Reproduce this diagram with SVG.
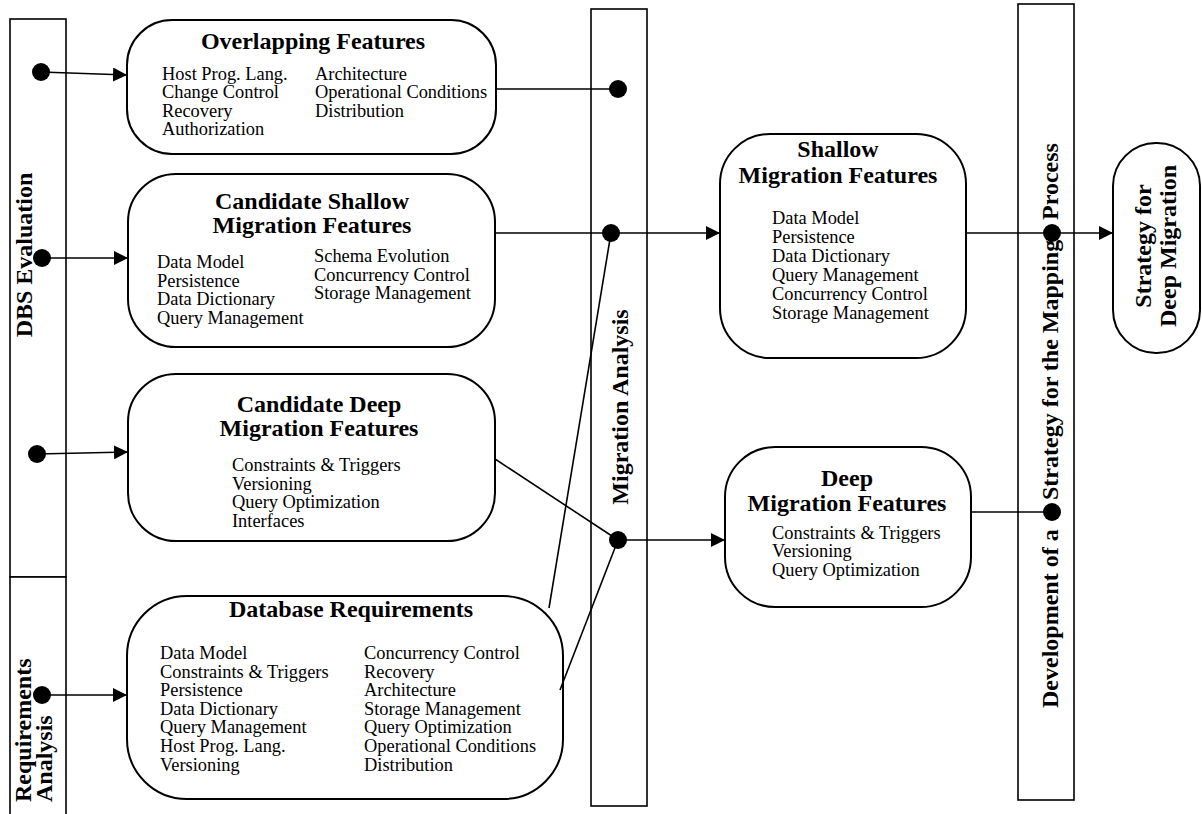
<svg xmlns="http://www.w3.org/2000/svg" width="1202" height="814" viewBox="0 0 1202 814">
<defs>
<style>
.box{fill:#fff;stroke:#000;stroke-width:2}
.bar{fill:#fff;stroke:#000;stroke-width:1.6}
.t{font-family:"Liberation Serif","Times New Roman",serif;font-weight:bold;font-size:24px;fill:#000}
.b{font-family:"Liberation Serif","Times New Roman",serif;font-size:18.4px;fill:#000}
.m{text-anchor:middle}
.ln{fill:none;stroke:#000;stroke-width:1.6}
.dot{fill:#000}
</style>
<marker id="arr" markerUnits="userSpaceOnUse" markerWidth="14" markerHeight="14" refX="14" refY="7" orient="auto">
<path d="M0,0 L14,7 L0,14 z" fill="#000"/>
</marker>
</defs>
<rect width="1202" height="814" fill="#fff"/>

<g id="bar-dbs">
<rect class="bar" x="10" y="19" width="56" height="558"/>
<text class="t m" transform="translate(32,255) rotate(-90)">DBS Evaluation</text>
</g>
<g id="bar-req">
<rect class="bar" x="10" y="577" width="56" height="260"/>
<text class="t" transform="translate(31,802) rotate(-90)">Requirements</text>
<text class="t" transform="translate(52,802) rotate(-90)">Analysis</text>
</g>
<g id="bar-migration">
<rect class="bar" x="591" y="9" width="56" height="797"/>
<text class="t m" transform="translate(628,407) rotate(-90)">Migration Analysis</text>
</g>
<g id="bar-strategy">
<rect class="bar" x="1018" y="4" width="56" height="796"/>
<text class="t" transform="translate(1058,708) rotate(-90)">Development of a</text>
<text class="t" transform="translate(1058,500) rotate(-90)">Strategy for the Mapping</text>
<text class="t" transform="translate(1058,220) rotate(-90)">Process</text>
</g>

<g id="node-overlapping">
<rect class="box" x="127" y="20" width="369" height="134" rx="45"/>
<text class="t m" x="313" y="49">Overlapping Features</text>
<text class="b" x="162" y="79.5">Host Prog. Lang.</text>
<text class="b" x="162" y="98">Change Control</text>
<text class="b" x="162" y="116.5">Recovery</text>
<text class="b" x="162" y="135">Authorization</text>
<text class="b" x="315" y="79.5">Architecture</text>
<text class="b" x="315" y="98">Operational Conditions</text>
<text class="b" x="315" y="116.5">Distribution</text>
</g>

<g id="node-cand-shallow">
<rect class="box" x="128" y="174" width="367" height="173" rx="48"/>
<text class="t m" x="312" y="209">Candidate Shallow</text>
<text class="t m" x="312" y="233">Migration Features</text>
<text class="b" x="157" y="268">Data Model</text>
<text class="b" x="157" y="286.5">Persistence</text>
<text class="b" x="157" y="305">Data Dictionary</text>
<text class="b" x="157" y="323.5">Query Management</text>
<text class="b" x="314" y="262">Schema Evolution</text>
<text class="b" x="314" y="280.5">Concurrency Control</text>
<text class="b" x="314" y="299">Storage Management</text>
</g>

<g id="node-cand-deep">
<rect class="box" x="128" y="374" width="367" height="167" rx="48"/>
<text class="t m" x="319" y="412">Candidate Deep</text>
<text class="t m" x="319" y="436">Migration Features</text>
<text class="b" x="232" y="471">Constraints &amp; Triggers</text>
<text class="b" x="232" y="489.5">Versioning</text>
<text class="b" x="232" y="508">Query Optimization</text>
<text class="b" x="232" y="526.5">Interfaces</text>
</g>

<g id="node-db-req">
<rect class="box" x="127" y="596" width="436" height="203" rx="60"/>
<text class="t m" x="351" y="617">Database Requirements</text>
<text class="b" x="160" y="659">Data Model</text>
<text class="b" x="160" y="677.6">Constraints &amp; Triggers</text>
<text class="b" x="160" y="696.2">Persistence</text>
<text class="b" x="160" y="714.8">Data Dictionary</text>
<text class="b" x="160" y="733.4">Query Management</text>
<text class="b" x="160" y="752">Host Prog. Lang.</text>
<text class="b" x="160" y="770.6">Versioning</text>
<text class="b" x="364" y="659">Concurrency Control</text>
<text class="b" x="364" y="677.6">Recovery</text>
<text class="b" x="364" y="696.2">Architecture</text>
<text class="b" x="364" y="714.8">Storage Management</text>
<text class="b" x="364" y="733.4">Query Optimization</text>
<text class="b" x="364" y="752">Operational Conditions</text>
<text class="b" x="364" y="770.6">Distribution</text>
</g>

<g id="node-shallow">
<rect class="box" x="720" y="134" width="246" height="224" rx="50"/>
<text class="t m" x="838" y="157">Shallow</text>
<text class="t m" x="838" y="183">Migration Features</text>
<text class="b" x="772" y="224">Data Model</text>
<text class="b" x="772" y="243">Persistence</text>
<text class="b" x="772" y="262">Data Dictionary</text>
<text class="b" x="772" y="281">Query Management</text>
<text class="b" x="772" y="299.5">Concurrency Control</text>
<text class="b" x="772" y="318.5">Storage Management</text>
</g>

<g id="node-deep">
<rect class="box" x="725" y="447" width="246" height="160" rx="50"/>
<text class="t m" x="847" y="486">Deep</text>
<text class="t m" x="847" y="511">Migration Features</text>
<text class="b" x="772" y="538.5">Constraints &amp; Triggers</text>
<text class="b" x="772" y="557">Versioning</text>
<text class="b" x="772" y="575.5">Query Optimization</text>
</g>

<g id="node-strategy">
<rect class="box" x="1113" y="143" width="87" height="210" rx="43"/>
<text class="t m" transform="translate(1151,246) rotate(-90)">Strategy for</text>
<text class="t m" transform="translate(1176,246) rotate(-90)">Deep Migration</text>
</g>

<g id="connectors">
<line class="ln" x1="41" y1="72" x2="127" y2="75" marker-end="url(#arr)"/>
<line class="ln" x1="42" y1="258" x2="128" y2="258" marker-end="url(#arr)"/>
<line class="ln" x1="37" y1="454" x2="128" y2="452" marker-end="url(#arr)"/>
<line class="ln" x1="42" y1="695" x2="127" y2="695" marker-end="url(#arr)"/>
<line class="ln" x1="496" y1="89" x2="618" y2="89"/>
<line class="ln" x1="495" y1="233" x2="720" y2="233" marker-end="url(#arr)"/>
<line class="ln" x1="549" y1="608" x2="611" y2="233"/>
<line class="ln" x1="495" y1="459" x2="618" y2="540"/>
<line class="ln" x1="560" y1="690" x2="618" y2="540"/>
<line class="ln" x1="618" y1="540" x2="725" y2="540" marker-end="url(#arr)"/>
<line class="ln" x1="966" y1="233" x2="1113" y2="233" marker-end="url(#arr)"/>
<line class="ln" x1="971" y1="512" x2="1052" y2="512"/>
<circle class="dot" cx="41" cy="72" r="9"/>
<circle class="dot" cx="42" cy="258" r="9"/>
<circle class="dot" cx="37" cy="454" r="9"/>
<circle class="dot" cx="42" cy="695" r="9"/>
<circle class="dot" cx="618" cy="89" r="9"/>
<circle class="dot" cx="611" cy="233" r="9"/>
<circle class="dot" cx="618" cy="540" r="9"/>
<circle class="dot" cx="1052" cy="233" r="9"/>
<circle class="dot" cx="1052" cy="512" r="9"/>
</g>
</svg>
